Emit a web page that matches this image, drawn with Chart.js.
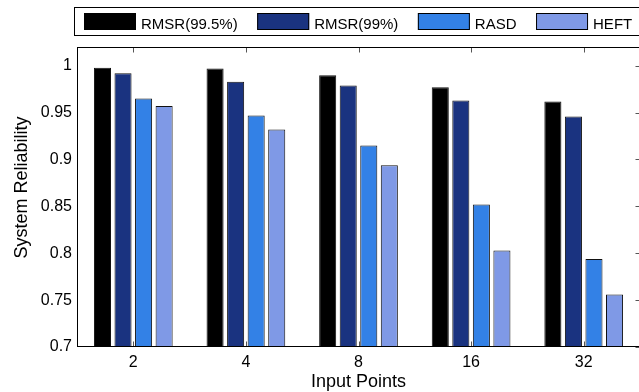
<!DOCTYPE html>
<html>
<head>
<meta charset="utf-8">
<script src="https://cdn.jsdelivr.net/npm/chart.js@4.4.0/dist/chart.umd.min.js"></script>
<style>
  html, body { margin: 0; padding: 0; background: #fff; overflow: hidden; }
  #wrap { width: 641px; height: 392px; }
</style>
</head>
<body>
<div id="wrap"><canvas id="chart" width="641" height="392"></canvas></div>
<script>
const inputPoints = ['2', '4', '8', '16', '32'];
const rmsr995 = [0.998, 0.997, 0.990, 0.977, 0.962];
const rmsr99 = [0.992, 0.983, 0.979, 0.963, 0.946];
const rasd = [0.965, 0.947, 0.915, 0.852, 0.794];
const heft = [0.957, 0.932, 0.894, 0.803, 0.756];
const yTicks = [0.7, 0.75, 0.8, 0.85, 0.9, 0.95, 1];

const FONT = '"Liberation Sans", Arial, Helvetica, sans-serif';

// MATLAB style box with inward ticks
const framePlugin = {
  id: 'frame',
  afterDatasetsDraw(chart) {
    const { ctx, chartArea: a, scales: { x, y } } = chart;
    const l = Math.round(a.left) + 0.5, t = Math.round(a.top) + 0.5;
    const r = Math.round(a.right) + 0.5, b = Math.round(a.bottom) - 0.5;
    ctx.save();
    ctx.strokeStyle = '#555';
    ctx.lineWidth = 1;
    ctx.beginPath();
    x.ticks.forEach((tk, i) => {
      const px = Math.round(x.getPixelForTick(i)) + 0.5;
      ctx.moveTo(px, t); ctx.lineTo(px, t + 5);
      ctx.moveTo(px, b); ctx.lineTo(px, b - 5);
    });
    y.ticks.forEach((tk, i) => {
      const py = Math.round(y.getPixelForTick(i)) + 0.5;
      ctx.moveTo(r, py); ctx.lineTo(r - 5, py);
    });
    ctx.stroke();
    ctx.strokeStyle = '#000';
    ctx.strokeRect(l, t, r - l, b - t);
    ctx.restore();
  }
};

// boxed legend above the axes plus the axis titles
const legendPlugin = {
  id: 'boxLegend',
  afterDraw(chart) {
    const { ctx, chartArea: a } = chart;
    ctx.save();
    ctx.lineWidth = 1;
    ctx.strokeStyle = '#000';
    ctx.strokeRect(74.5, 7.5, 600, 28);
    ctx.font = '15px ' + FONT;
    ctx.textBaseline = 'alphabetic';
    let x = 84;
    chart.data.datasets.forEach(ds => {
      ctx.fillStyle = ds.backgroundColor;
      ctx.fillRect(x, 13, 52, 17);
      ctx.strokeRect(x + 0.5, 13.5, 51, 16);
      ctx.fillStyle = '#000';
      ctx.fillText(ds.label, x + 57, 28.5);
      x += 52 + 5 + ctx.measureText(ds.label).width + 19.5;
    });

    ctx.font = '18px ' + FONT;
    ctx.textAlign = 'center';
    ctx.fillText('Input Points', (a.left + a.right) / 2, 386.5);
    ctx.translate(27, 187.5);
    ctx.rotate(-Math.PI / 2);
    ctx.fillText('System Reliability', 0, 0);
    ctx.restore();
  }
};

function barSet(label, data, color) {
  return {
    label, data,
    backgroundColor: color,
    borderColor: '#111',
    borderWidth: 1,
    categoryPercentage: 0.73,
    barPercentage: 0.83
  };
}

new Chart(document.getElementById('chart'), {
  type: 'bar',
  data: {
    labels: inputPoints,
    datasets: [
      barSet('RMSR(99.5%)', rmsr995, '#000000'),
      barSet('RMSR(99%)', rmsr99, '#1a3380'),
      barSet('RASD', rasd, '#3381e6'),
      barSet('HEFT', heft, '#7f99e6')
    ]
  },
  options: {
    responsive: false,
    animation: false,
    devicePixelRatio: 1,
    layout: { padding: { top: 47, right: 1, left: 0, bottom: 0 } },
    plugins: {
      legend: { display: false },
      tooltip: { enabled: false }
    },
    scales: {
      x: {
        grid: { display: false, drawTicks: false },
        border: { display: false },
        ticks: { color: '#000', font: { family: FONT, size: 16 }, padding: 6 },
        afterFit(scale) { scale.height = 45; }
      },
      y: {
        min: 0.7,
        max: 1.02,
        grid: { display: false, drawTicks: false },
        border: { display: false },
        afterBuildTicks(scale) { scale.ticks = yTicks.map(v => ({ value: v })); },
        ticks: {
          color: '#000',
          font: { family: FONT, size: 16 },
          padding: 5,
          callback: v => String(v)
        },
        afterFit(scale) { scale.width = 77; }
      }
    }
  },
  plugins: [framePlugin, legendPlugin]
});
</script>
</body>
</html>
